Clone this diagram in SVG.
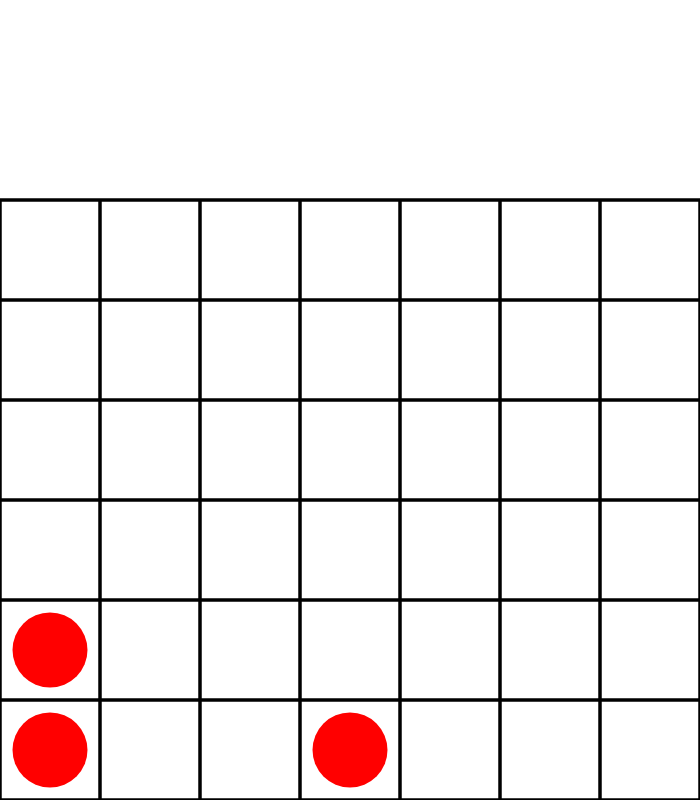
<svg xmlns="http://www.w3.org/2000/svg" width="700" height="800" viewBox="0 0 700 800">
<style>
.grid line{stroke:#000;stroke-width:3.5}
.disc{fill:#ff0000}
</style>
<rect x="0" y="0" width="700" height="800" fill="#fff"/>
<g id="grid" class="grid">
<line x1="0" y1="200" x2="700" y2="200"/>
<line x1="0" y1="300" x2="700" y2="300"/>
<line x1="0" y1="400" x2="700" y2="400"/>
<line x1="0" y1="500" x2="700" y2="500"/>
<line x1="0" y1="600" x2="700" y2="600"/>
<line x1="0" y1="700" x2="700" y2="700"/>
<line x1="0" y1="800" x2="700" y2="800"/>
<line x1="0" y1="200" x2="0" y2="800"/>
<line x1="100" y1="200" x2="100" y2="800"/>
<line x1="200" y1="200" x2="200" y2="800"/>
<line x1="300" y1="200" x2="300" y2="800"/>
<line x1="400" y1="200" x2="400" y2="800"/>
<line x1="500" y1="200" x2="500" y2="800"/>
<line x1="600" y1="200" x2="600" y2="800"/>
<line x1="700" y1="200" x2="700" y2="800"/>
</g>
<g id="disc1"><circle class="disc" cx="50" cy="650" r="37.5"/></g>
<g id="disc2"><circle class="disc" cx="50" cy="750" r="37.5"/></g>
<g id="disc3"><circle class="disc" cx="350" cy="750" r="37.5"/></g>
</svg>
